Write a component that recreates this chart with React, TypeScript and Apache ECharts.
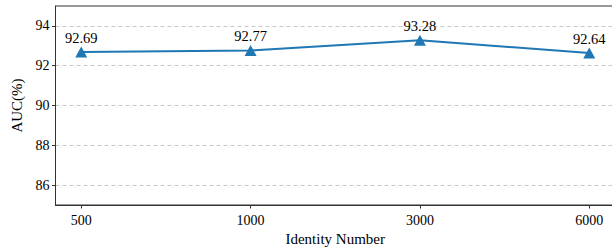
import React, { useEffect, useRef } from "react";
import * as echarts from "echarts";

const categories = ["500", "1000", "3000", "6000"];
const aucValues = [92.69, 92.77, 93.28, 92.64];
const yTicks = [86, 88, 90, 92, 94];

const FONT = "'Liberation Serif', 'Times New Roman', serif";

export default function App() {
  const ref = useRef<HTMLDivElement>(null);
  useEffect(() => {
    if (!ref.current) return;
    const chart = echarts.init(ref.current, null, { renderer: "svg" });
    const idx = categories.map((_, i) => i);
    chart.setOption({
      animation: false,
      textStyle: { fontFamily: FONT },
      grid: {
        left: 55.5,
        right: -3,
        top: 6,
        bottom: 43,
        containLabel: false,
        outerBoundsMode: "none",
        show: true,
        borderColor: "#333",
        borderWidth: 1,
        backgroundColor: "transparent",
      },
      xAxis: {
        type: "value",
        min: -0.152,
        max: 3.152,
        name: "Identity Number",
        nameLocation: "middle",
        nameGap: 26,
        nameTextStyle: { fontFamily: FONT, fontSize: 15, color: "#000" },
        axisLine: { show: true, onZero: false, lineStyle: { color: "#333", width: 1 } },
        axisTick: { show: true, length: 3.5, customValues: idx, lineStyle: { color: "#333" } },
        axisLabel: {
          customValues: idx,
          formatter: (v: number) => categories[Math.round(v)] ?? "",
          fontFamily: FONT,
          fontSize: 14,
          color: "#000",
          margin: 8,
        },
        splitLine: { show: false },
      },
      yAxis: {
        type: "value",
        min: 85,
        max: 95,
        name: "AUC(%)",
        nameLocation: "middle",
        nameGap: 28,
        nameTextStyle: { fontFamily: FONT, fontSize: 15, color: "#000" },
        axisLine: { show: true, onZero: false, lineStyle: { color: "#333", width: 1 } },
        axisTick: { show: true, length: 3.5, customValues: yTicks, lineStyle: { color: "#333" } },
        axisLabel: {
          customValues: yTicks,
          fontFamily: FONT,
          fontSize: 14,
          color: "#000",
          margin: 6,
        },
        splitLine: {
          show: true,
          customValues: yTicks,
          lineStyle: { color: "#c8c8c8", type: [4, 3], width: 1 },
        },
      },
      series: [
        {
          type: "line",
          data: aucValues.map((v, i) => [i, v]),
          symbol: "triangle",
          symbolSize: [12, 11],
          lineStyle: { color: "#1f77b4", width: 2 },
          itemStyle: { color: "#1f77b4" },
          label: {
            show: true,
            position: "top",
            distance: 1,
            formatter: (p: any) => p.value[1].toFixed(2),
            fontFamily: FONT,
            fontSize: 14.5,
            color: "#000",
          },
        },
      ],
    });
    return () => chart.dispose();
  }, []);
  return (
    <div
      ref={ref}
      style={{ position: "fixed", left: 0, top: 0, width: 612, height: 248, background: "#fff" }}
    />
  );
}
